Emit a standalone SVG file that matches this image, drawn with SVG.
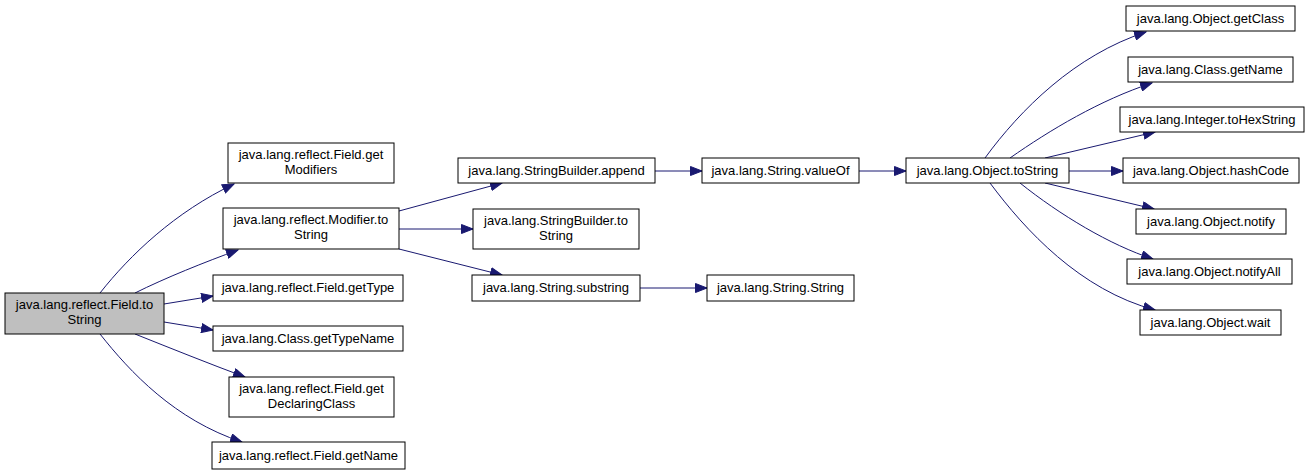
<svg xmlns="http://www.w3.org/2000/svg" width="1309" height="475" viewBox="0 0 1309 475">
<style>
.n rect{fill:#ffffff;stroke:#000000;stroke-width:1}
.root rect{fill:#bfbfbf}
text{font-family:"Liberation Sans",Arial,sans-serif;font-size:13px;fill:#000000;text-anchor:middle}
.e path{fill:none;stroke:#191970;stroke-width:1;marker-end:url(#ah)}
</style>
<defs>
<marker id="ah" markerUnits="userSpaceOnUse" markerWidth="13" markerHeight="10" refX="12" refY="5" orient="auto">
<path d="M0.5,0.5 L12,5 L0.5,9.5 z" fill="#191970" stroke="#191970" stroke-width="1"/>
</marker>
</defs>
<rect x="0" y="0" width="1309" height="475" fill="#ffffff"/>
<g class="e" id="edges">
<path d="M100,293 C130,255 175,212 234,184"/>
<path d="M135,293 C165,278 205,262 238,250"/>
<path d="M164,304 L213,296"/>
<path d="M164,322 L213,330"/>
<path d="M135,334 C170,348 210,364 245,377"/>
<path d="M100,334 C130,372 175,420 242,442"/>
<path d="M399,211 L502,183"/>
<path d="M399,229 L473,229"/>
<path d="M399,249 L502,275"/>
<path d="M655,171 L702,171"/>
<path d="M859,171 L906,171"/>
<path d="M640,288 L707,288"/>
<path d="M985,158 C1020,110 1075,55 1146,32"/>
<path d="M1010,158 C1050,130 1100,100 1152,83"/>
<path d="M1045,158 L1155,132"/>
<path d="M1069,171 L1123,171"/>
<path d="M1045,183 L1154,209"/>
<path d="M1020,183 C1060,215 1110,245 1153,259"/>
<path d="M990,183 C1025,230 1080,290 1155,310"/>
</g>
<g class="n root" id="n_root"><rect x="5" y="293" width="159" height="41"/><text x="84.5" y="309">java.lang.reflect.Field.to</text><text x="84.5" y="324">String</text></g>
<g class="n" id="n_getModifiers"><rect x="228" y="143" width="166" height="40"/><text x="311" y="159">java.lang.reflect.Field.get</text><text x="311" y="174">Modifiers</text></g>
<g class="n" id="n_modToString"><rect x="223" y="208" width="176" height="41"/><text x="311" y="224">java.lang.reflect.Modifier.to</text><text x="311" y="239">String</text></g>
<g class="n" id="n_getType"><rect x="213" y="275" width="190" height="26"/><text x="308" y="292">java.lang.reflect.Field.getType</text></g>
<g class="n" id="n_getTypeName"><rect x="213" y="326" width="190" height="25"/><text x="308" y="343">java.lang.Class.getTypeName</text></g>
<g class="n" id="n_getDeclaringClass"><rect x="229" y="377" width="165" height="40"/><text x="311.5" y="393">java.lang.reflect.Field.get</text><text x="311.5" y="408">DeclaringClass</text></g>
<g class="n" id="n_getName"><rect x="212" y="442" width="193" height="27"/><text x="308.5" y="460">java.lang.reflect.Field.getName</text></g>
<g class="n" id="n_append"><rect x="458" y="158" width="197" height="25"/><text x="556.5" y="175">java.lang.StringBuilder.append</text></g>
<g class="n" id="n_sbToString"><rect x="473" y="209" width="166" height="40"/><text x="556" y="225">java.lang.StringBuilder.to</text><text x="556" y="240">String</text></g>
<g class="n" id="n_substring"><rect x="472" y="275" width="168" height="26"/><text x="556" y="292">java.lang.String.substring</text></g>
<g class="n" id="n_valueOf"><rect x="702" y="158" width="157" height="25"/><text x="780.5" y="175">java.lang.String.valueOf</text></g>
<g class="n" id="n_stringString"><rect x="707" y="275" width="147" height="26"/><text x="780.5" y="292">java.lang.String.String</text></g>
<g class="n" id="n_objToString"><rect x="906" y="158" width="163" height="25"/><text x="987.5" y="175">java.lang.Object.toString</text></g>
<g class="n" id="n_getClass"><rect x="1126" y="6" width="169" height="25"/><text x="1210.5" y="23">java.lang.Object.getClass</text></g>
<g class="n" id="n_classGetName"><rect x="1128" y="57" width="165" height="25"/><text x="1210.5" y="74">java.lang.Class.getName</text></g>
<g class="n" id="n_toHexString"><rect x="1120" y="107" width="184" height="25"/><text x="1212" y="124">java.lang.Integer.toHexString</text></g>
<g class="n" id="n_hashCode"><rect x="1123" y="158" width="176" height="25"/><text x="1211" y="175">java.lang.Object.hashCode</text></g>
<g class="n" id="n_notify"><rect x="1136" y="209" width="150" height="25"/><text x="1211" y="226">java.lang.Object.notify</text></g>
<g class="n" id="n_notifyAll"><rect x="1127" y="259" width="165" height="25"/><text x="1209.5" y="276">java.lang.Object.notifyAll</text></g>
<g class="n" id="n_wait"><rect x="1140" y="310" width="141" height="25"/><text x="1210.5" y="327">java.lang.Object.wait</text></g>
</svg>
